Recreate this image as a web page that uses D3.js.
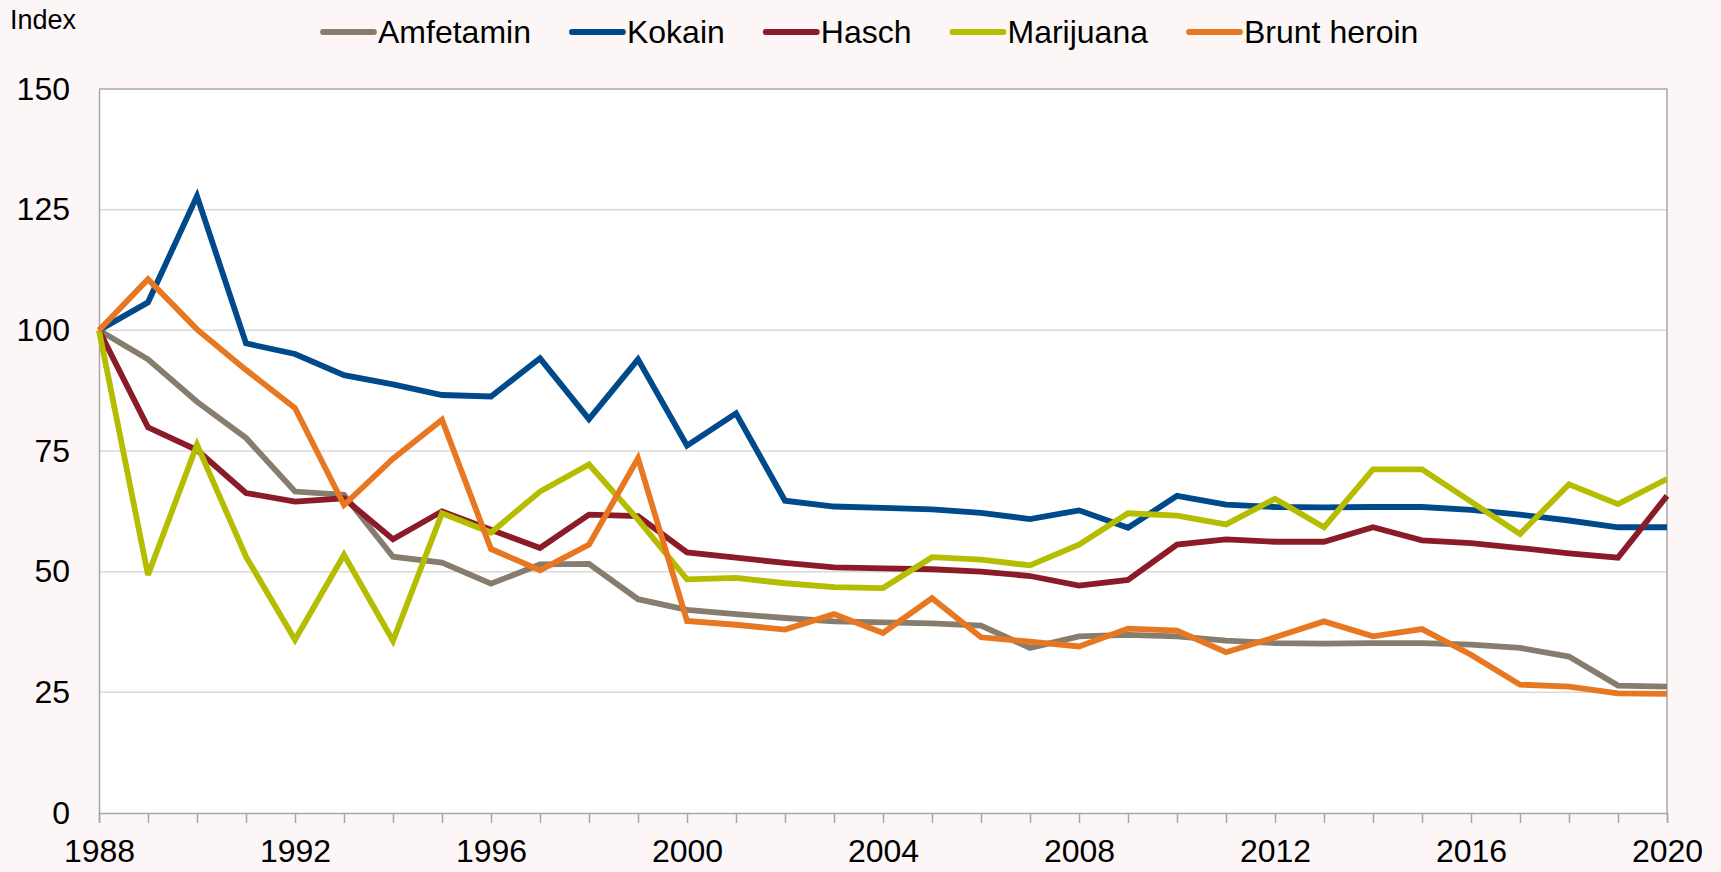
<!DOCTYPE html>
<html>
<head>
<meta charset="utf-8">
<script src="https://cdn.jsdelivr.net/npm/d3@7"></script>
<style>
  html, body { margin: 0; padding: 0; background: #fcf7f6; }
  svg { display: block; font-family: "Liberation Sans", Arial, sans-serif; }
</style>
</head>
<body>
<svg id="chart" width="1721" height="872"></svg>
<script>
// years on the x axis
const years = d3.range(1988, 2021);

// index values (1988 = 100)
const amfetamin = [100, 94.0, 85.2, 77.7, 66.6, 65.9, 53.1, 51.9, 47.5, 51.5, 51.6,
  44.3, 42.1, 41.2, 40.4, 39.7, 39.5, 39.3, 38.8, 34.2, 36.6, 36.9, 36.6, 35.7,
  35.2, 35.1, 35.2, 35.2, 34.9, 34.2, 32.4, 26.4, 26.2];
const kokain = [100, 105.8, 127.8, 97.3, 95.1, 90.7, 88.8, 86.6, 86.3, 94.2, 81.6,
  94.0, 76.1, 82.8, 64.7, 63.5, 63.2, 62.9, 62.2, 60.9, 62.7, 59.1, 65.7, 63.9,
  63.4, 63.3, 63.4, 63.4, 62.8, 61.8, 60.6, 59.2, 59.2];
const hasch = [100, 79.9, 75.2, 66.3, 64.5, 65.2, 56.7, 62.5, 58.7, 54.9, 61.8,
  61.5, 54.0, 52.9, 51.8, 50.9, 50.7, 50.5, 50.0, 49.1, 47.1, 48.3, 55.6, 56.7,
  56.2, 56.2, 59.2, 56.5, 55.9, 54.9, 53.8, 52.9, 65.7];
const marijuana = [100, 49.3, 76.3, 53.1, 35.9, 53.5, 35.7, 62.1, 58.1, 66.6, 72.2,
  60.8, 48.4, 48.7, 47.6, 46.8, 46.6, 53.0, 52.5, 51.3, 55.6, 62.1, 61.6, 59.8,
  65.1, 59.2, 71.2, 71.2, 64.5, 57.8, 68.1, 64.0, 69.2];
const bruntHeroin = [100, 110.6, 100.2, 91.8, 83.9, 63.8, 73.4, 81.5, 54.7, 50.3, 55.6,
  73.5, 39.8, 39.0, 38.0, 41.2, 37.3, 44.5, 36.4, 35.5, 34.5, 38.2, 37.8, 33.3,
  36.4, 39.7, 36.6, 38.1, 32.8, 26.6, 26.2, 24.8, 24.7];

const seriesNames = ["Amfetamin", "Kokain", "Hasch", "Marijuana", "Brunt heroin"];
const seriesValues = [amfetamin, kokain, hasch, marijuana, bruntHeroin];
const seriesColors = ["#877d6f", "#00498a", "#8c1b2a", "#b4bd00", "#e87722"];

const yTicks = [0, 25, 50, 75, 100, 125, 150];
const xLabelYears = [1988, 1992, 1996, 2000, 2004, 2008, 2012, 2016, 2020];

// layout
const svg = d3.select("#chart");
const width = 1721, height = 872;
const margin = {top: 89, right: 54, bottom: 59, left: 99};
const innerW = width - margin.left - margin.right;
const innerH = height - margin.top - margin.bottom;

const x = d3.scaleLinear().domain([1988, 2020]).range([margin.left, margin.left + innerW]);
const y = d3.scaleLinear().domain([0, 150]).range([margin.top + innerH, margin.top]);

// plot background
svg.append("rect")
  .attr("x", margin.left).attr("y", margin.top)
  .attr("width", innerW).attr("height", innerH)
  .attr("fill", "#ffffff");

// horizontal gridlines
svg.append("g")
  .selectAll("line")
  .data(yTicks.filter(d => d > 0 && d < 150))
  .join("line")
  .attr("x1", margin.left).attr("x2", margin.left + innerW)
  .attr("y1", d => y(d)).attr("y2", d => y(d))
  .attr("stroke", "#d9d9d9")
  .attr("stroke-width", 1.5);

// border top / right
svg.append("path")
  .attr("d", `M${margin.left},${margin.top}H${margin.left + innerW}V${margin.top + innerH}`)
  .attr("fill", "none")
  .attr("stroke", "#a6a6a6")
  .attr("stroke-width", 1.5);

// x axis
const xAxis = svg.append("g")
  .attr("transform", `translate(0,${margin.top + innerH})`)
  .call(d3.axisBottom(x)
    .tickValues(years)
    .tickSize(10)
    .tickPadding(16)
    .tickFormat(d => xLabelYears.includes(d) ? String(d) : ""));
xAxis.selectAll("path, line").attr("stroke", "#a6a6a6").attr("stroke-width", 1.5);
xAxis.selectAll("text").attr("font-size", 32).attr("fill", "#000")
  .attr("font-family", "'Liberation Sans', Arial, sans-serif");

// y axis
const yAxis = svg.append("g")
  .attr("transform", `translate(${margin.left},0)`)
  .call(d3.axisLeft(y)
    .tickValues(yTicks)
    .tickSize(0)
    .tickPadding(29));
yAxis.selectAll("path").attr("stroke", "#a6a6a6").attr("stroke-width", 1.5);
yAxis.selectAll("text").attr("font-size", 32).attr("fill", "#000")
  .attr("font-family", "'Liberation Sans', Arial, sans-serif");

// lines
const line = d3.line()
  .x((d, i) => x(years[i]))
  .y(d => y(d));

svg.append("g")
  .selectAll("path")
  .data(seriesValues)
  .join("path")
  .attr("d", line)
  .attr("fill", "none")
  .attr("stroke", (d, i) => seriesColors[i])
  .attr("stroke-width", 5.8)
  .attr("stroke-linejoin", "miter")
  .attr("stroke-miterlimit", 3);

// unit label
svg.append("text")
  .attr("x", 10).attr("y", 29)
  .attr("font-size", 27)
  .text("Index");

// legend
const legend = svg.append("g");
let lx = 320;
const ly = 32;
seriesNames.forEach((name, i) => {
  legend.append("line")
    .attr("x1", lx + 3).attr("x2", lx + 54)
    .attr("y1", ly).attr("y2", ly)
    .attr("stroke", seriesColors[i])
    .attr("stroke-width", 5.8)
    .attr("stroke-linecap", "round");
  const t = legend.append("text")
    .attr("x", lx + 58).attr("y", ly + 11)
    .attr("font-size", 32)
    .text(name);
  lx += 58 + t.node().getComputedTextLength() + 38;
});
</script>
</body>
</html>
